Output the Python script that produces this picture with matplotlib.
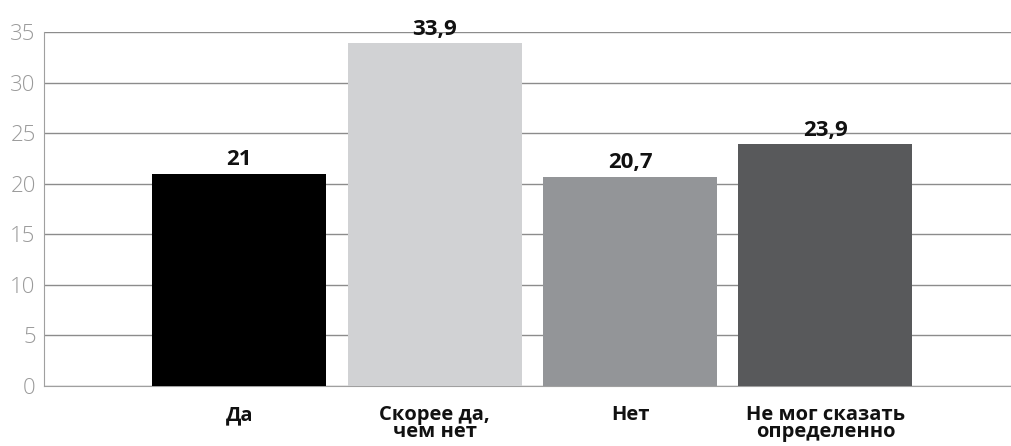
import matplotlib
matplotlib.use('Agg')
import matplotlib.pyplot as plt

# data
categories = ['Да', 'Скорее да,\nчем нет', 'Нет', 'Не мог сказать\nопределенно']
values = [21, 33.9, 20.7, 23.9]
value_labels = ['21', '33,9', '20,7', '23,9']
colors = ['#000000', '#d1d2d4', '#939598', '#58595b']

bold_font = ['Open Sans', 'DejaVu Sans']

fig = plt.figure(figsize=(10.11, 4.46), dpi=100)
ax = fig.add_axes([44 / 1011, 1 - 386 / 446, 1 - 44 / 1011, (386 - 32) / 446])

x = range(len(categories))
ax.bar(x, values, width=0.89, color=colors, zorder=3)

for xi, v, lab in zip(x, values, value_labels):
    ax.annotate(lab, (xi, v), xytext=(0, 6), textcoords='offset points',
                ha='center', va='baseline', fontsize=16, fontweight='bold',
                family=bold_font, color='#111111', zorder=4)

ax.set_xlim(-1.0, 3.95)
ax.set_ylim(0, 35)
ax.set_yticks(range(0, 36, 5))
ax.yaxis.grid(True, color='#8c8c8c', linewidth=1, zorder=0)
ax.set_axisbelow(True)

ax.set_xticks(list(x))
ax.set_xticklabels(categories, fontsize=14.5, fontweight='bold', color='#111111',
                   family=bold_font, linespacing=0.78)
ax.tick_params(axis='x', length=0, pad=14)
ax.tick_params(axis='y', length=0, pad=6, labelsize=16, labelcolor='#9a9a9a')
for t in ax.get_yticklabels():
    t.set_fontfamily(['Open Sans', 'DejaVu Sans'])
    t.set_fontweight('light')

for s in ['top', 'right']:
    ax.spines[s].set_visible(False)
ax.spines['left'].set_color('#a0a0a0')
ax.spines['bottom'].set_color('#a0a0a0')

fig.savefig('out.png', dpi=100)
